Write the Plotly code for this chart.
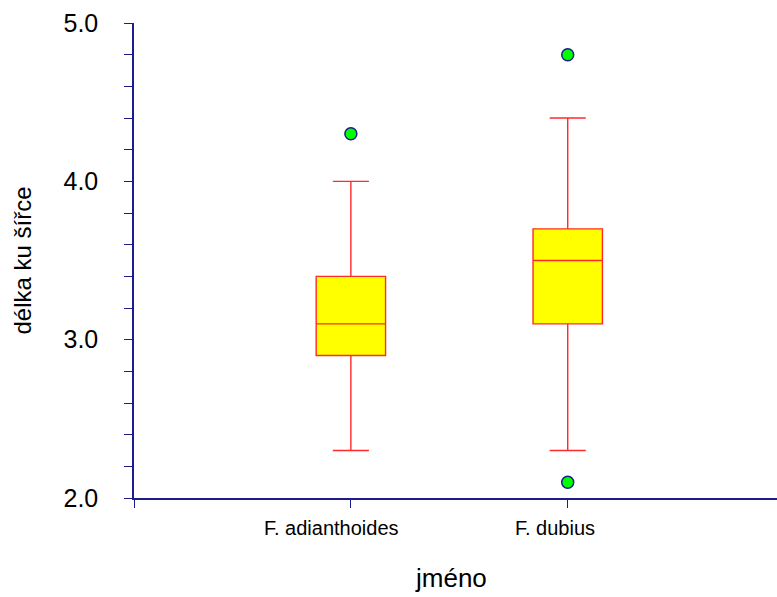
import plotly.graph_objects as go

categories = ["F. adianthoides", "F. dubius"]
q1 = [2.9, 3.1]
median = [3.1, 3.5]
q3 = [3.4, 3.7]
lowerfence = [2.3, 2.3]
upperfence = [4.0, 4.4]
outlier_cat = [0, 1, 1]
outlier_val = [4.3, 4.8, 2.1]
y_ticks = [2.0, 3.0, 4.0, 5.0]
y_ticklabels = ["2.0", "3.0", "4.0", "5.0"]
label_shift = [-19, -13]

AXIS = "#1c1c8c"
FONT = "Liberation Sans, Arial, sans-serif"

fig = go.Figure()
for i, c in enumerate(categories):
    fig.add_trace(go.Box(
        x=[i], q1=[q1[i]], median=[median[i]], q3=[q3[i]],
        lowerfence=[lowerfence[i]], upperfence=[upperfence[i]],
        width=0.32, whiskerwidth=0.52,
        fillcolor="#ffff00", line=dict(color="#ff2a2a", width=1.4),
        boxpoints=False, showlegend=False, hoverinfo="skip",
    ))
    fig.add_annotation(
        x=i, y=0, xref="x", yref="paper", text=c, showarrow=False,
        xanchor="center", yanchor="top", yshift=-17, xshift=label_shift[i],
        font=dict(size=20, family=FONT, color="black"),
    )

fig.add_trace(go.Scatter(
    x=outlier_cat, y=outlier_val, mode="markers",
    marker=dict(size=12, color="#00ff00", line=dict(color="#1c1c8c", width=1.5)),
    showlegend=False, cliponaxis=False,
))

fig.add_annotation(
    x=0.5, y=0, xref="paper", yref="paper", text="jméno", showarrow=False,
    xanchor="center", yanchor="top", yshift=-63, xshift=-5,
    font=dict(size=26, family=FONT, color="black"),
)

fig.update_layout(
    width=777, height=597,
    margin=dict(l=134, r=0, t=23, b=99),
    paper_bgcolor="white", plot_bgcolor="white",
    font=dict(family=FONT, color="black"),
    xaxis=dict(
        range=[-1.0, 1.965], tickmode="array", tickvals=[-1, 0, 1],
        showticklabels=False,
        showline=True, linecolor=AXIS, linewidth=1.5,
        ticks="outside", ticklen=8, tickcolor=AXIS, tickwidth=1.2,
        showgrid=False, zeroline=False,
    ),
    yaxis=dict(
        range=[2.0, 5.0], tickmode="array", tickvals=y_ticks, ticktext=y_ticklabels,
        tickfont=dict(size=25),
        showline=True, linecolor=AXIS, linewidth=1.5,
        ticks="outside", ticklen=8, tickcolor=AXIS, tickwidth=1.2,
        minor=dict(dtick=0.2, ticks="outside", ticklen=8, tickcolor=AXIS, tickwidth=1.2, showgrid=False),
        showgrid=False, zeroline=False, ticklabelstandoff=21,
        title=dict(text="délka ku šířce", font=dict(size=24), standoff=25),
    ),
)

fig.write_html("out.html")
